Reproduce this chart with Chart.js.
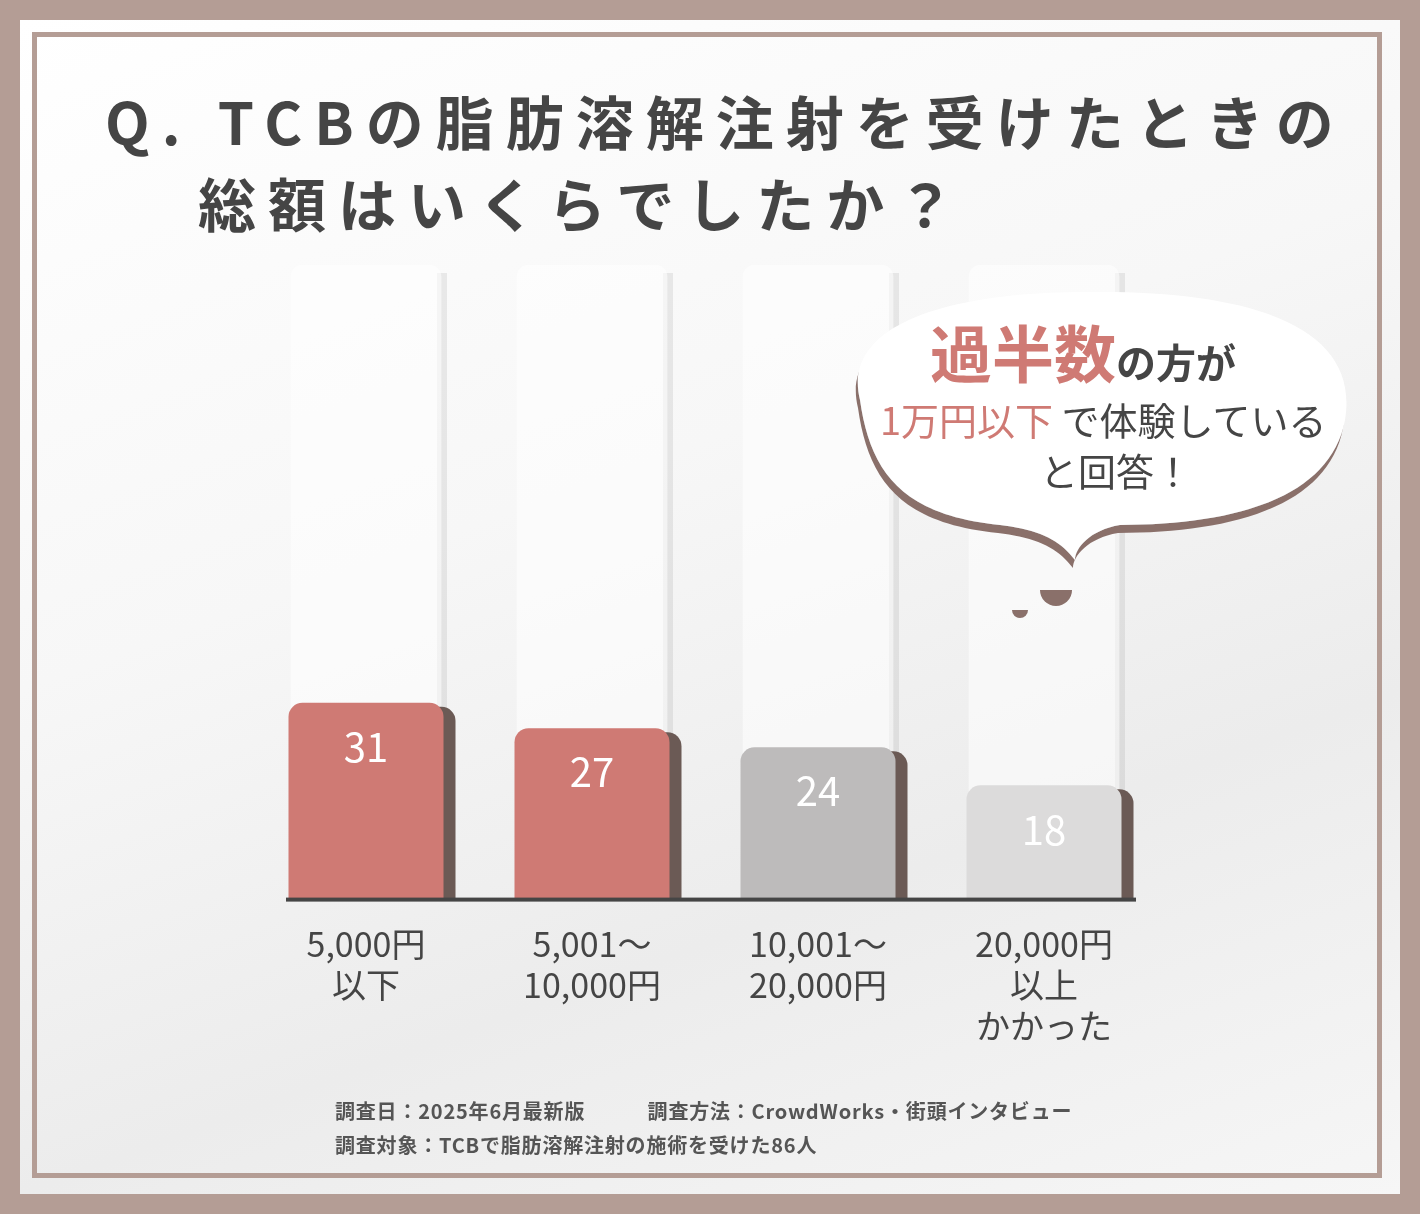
<!DOCTYPE html><html><head><meta charset="utf-8">
<script src="https://cdn.jsdelivr.net/npm/chart.js@4"></script>
<style>
body{margin:0;width:1420px;height:1214px;background:#b49d95;position:relative;overflow:hidden;font-family:"Noto Sans CJK JP",sans-serif}
#panel{position:absolute;left:20px;top:20px;width:1380px;height:1174px;background:linear-gradient(160deg,#fff 0%,#f7f7f7 40%,#ececec 70%,#f6f6f6 100%)}
#frame{position:absolute;left:32px;top:32px;width:1350px;height:1146px;border:5px solid #b49d95;box-sizing:border-box}
.t{position:absolute;color:#454545;font-weight:700;font-size:58px;letter-spacing:12px;white-space:nowrap}
canvas{position:absolute;left:0;top:0}
.f{position:absolute;color:#555;font-size:20px;letter-spacing:0.8px;font-weight:700;white-space:nowrap}
</style></head><body>
<div id="panel"></div><div id="frame"></div>
<div class="t" style="left:105px;top:78px">Q. TCBの脂肪溶解注射を受けたときの</div>
<div class="t" style="left:198px;top:160px">総額はいくらでしたか？</div>
<canvas id="c" width="1420" height="1214"></canvas>
<svg style="position:absolute;left:0;top:0" width="1420" height="1214">
<defs><filter id="s"><feDropShadow dx="-2" dy="8" stdDeviation="0" flood-color="#8a706a"/></filter></defs>
<g filter="url(#s)" fill="#fff">
<path d="M860,400 C840,320 960,290 1100,292 C1260,292 1360,330 1345,420 C1330,500 1230,525 1120,525 C1090,530 1075,548 1075,560 C1060,540 1040,530 1000,525 C900,515 870,470 860,400 Z"/>
</g>
<path d="M1040,590 a16,16 0 0 0 32,0" fill="#8a706a"/><path d="M1012,610 a8,8 0 0 0 16,0" fill="#8a706a"/>
<text x="930" y="378" font-size="62" fill="#cf7a74" font-weight="700" font-family="Noto Sans CJK JP">過半数<tspan font-size="40" fill="#454545">の方が</tspan></text>
<text x="880" y="435" font-size="38" font-family="Noto Sans CJK JP" fill="#454545"><tspan fill="#cf7a74">1万円以下</tspan> で体験している</text>
<text x="1040" y="486" font-size="38" font-family="Noto Sans CJK JP" fill="#454545">と回答！</text>
</svg>
<div class="f" style="left:335px;top:1096px">調査日：2025年6月最新版　　　調査方法：CrowdWorks・街頭インタビュー</div>
<div class="f" style="left:335px;top:1130px">調査対象：TCBで脂肪溶解注射の施術を受けた86人</div>
<script>
const categories=[["5,000円","以下"],["5,001〜","10,000円"],["10,001〜","20,000円"],["20,000円","以上","かかった"]];
const values=[31,27,24,18];
const pillars=[100,100,100,100];
const colors=["#cf7a74","#cf7a74","#bdbbbb","#dcdbdb"];
const deco={id:'deco',beforeDatasetsDraw(ch){const x=ch.ctx;
 const m0=ch.getDatasetMeta(0);m0.data.forEach(b=>{x.save();x.fillStyle='rgba(0,0,0,0.07)';x.fillRect(b.x+b.width/2-4,b.y+8,10,b.base-b.y-8);x.restore();});},
 afterDatasetsDraw(ch){const x=ch.ctx;const a=ch.chartArea;x.save();
 const m=ch.getDatasetMeta(1);
 m.data.forEach((b,i)=>{x.fillStyle='#6b5a55';x.beginPath();x.roundRect(b.x-b.width/2+12,b.y+4,b.width,b.base-b.y-4,[14,14,0,0]);x.fill();
  x.fillStyle=colors[i];x.beginPath();x.roundRect(b.x-b.width/2,b.y,b.width,b.base-b.y,[14,14,0,0]);x.fill();});
 x.fillStyle='#454545';x.fillRect(286,a.bottom-2,850,4);
 x.fillStyle='#fff';x.font='40px "Noto Sans CJK JP"';x.textAlign='center';x.textBaseline='middle';
 m.data.forEach((b,i)=>x.fillText(values[i],b.x,b.y+44));x.restore();}};
new Chart(document.getElementById('c'),{type:'bar',data:{labels:categories,datasets:[
 {data:pillars,backgroundColor:'rgba(255,255,255,0.55)',barThickness:150,borderRadius:{topLeft:12,topRight:12},borderSkipped:'bottom'},
 {data:values,backgroundColor:'rgba(0,0,0,0)',barThickness:155,borderSkipped:'bottom'}]},
 options:{responsive:false,animation:false,layout:{padding:{left:253,right:263,top:265,bottom:152}},
 plugins:{legend:{display:false},tooltip:{enabled:false}},
 scales:{y:{display:false,min:0,max:100},x:{grid:{display:false},border:{display:false},
 ticks:{color:'#454545',font:{size:34,family:'"Noto Sans CJK JP"'},padding:16,maxRotation:0}}},
 datasets:{bar:{grouped:false}}},plugins:[deco]});
</script></body></html>
